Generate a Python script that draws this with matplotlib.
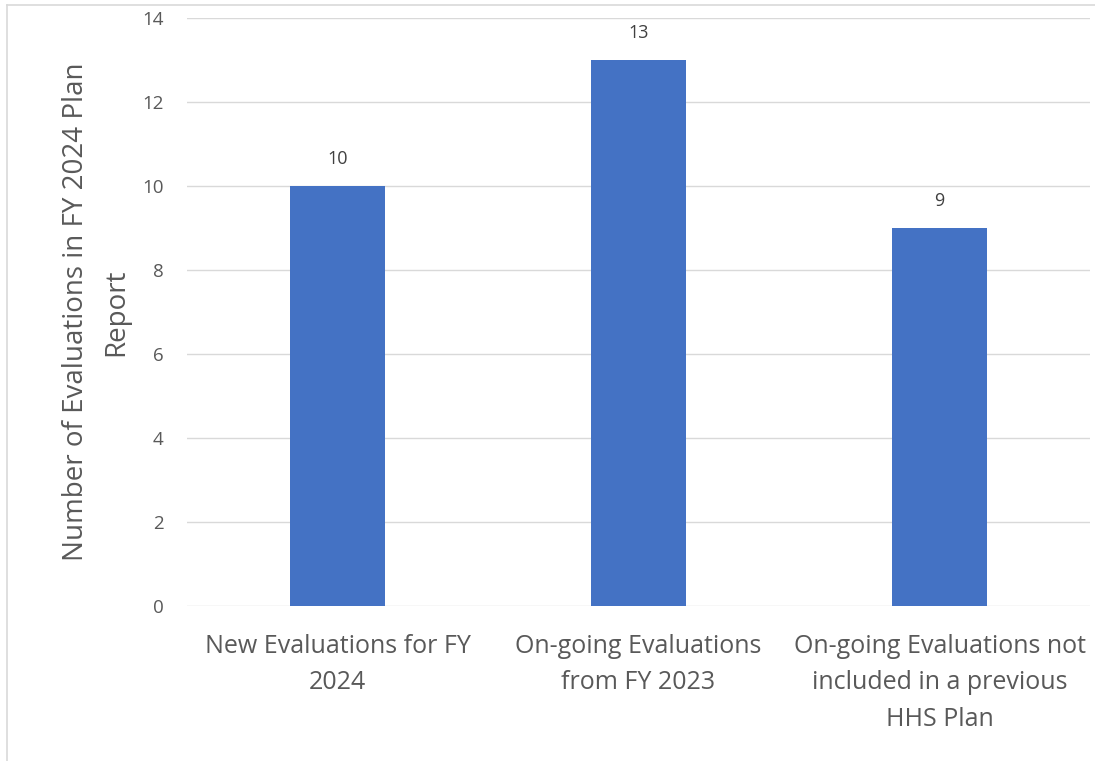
import matplotlib
matplotlib.use('Agg')
import matplotlib.pyplot as plt
from matplotlib.lines import Line2D

categories = ['New Evaluations for FY\n2024',
              'On-going Evaluations\nfrom FY 2023',
              'On-going Evaluations not\nincluded in a previous\nHHS Plan']
values = [10, 13, 9]
y_ticks = [0, 2, 4, 6, 8, 10, 12, 14]
y_label = 'Number of Evaluations in FY 2024 Plan\nReport'

BLUE = '#4472c4'
GRAY_TEXT = '#595959'
GRID = '#d9d9d9'

plt.rcParams['font.family'] = ['Open Sans', 'DejaVu Sans']

fig = plt.figure(figsize=(10.95, 7.61), dpi=100)
ax = fig.add_axes([0.1708, 0.2037, 0.8247, 0.7727])

x = list(range(len(categories)))
bars = ax.bar(x, values, width=0.315, color=BLUE, zorder=3)
for xi, v in zip(x, values):
    ax.text(xi, v + 0.42, str(v), ha='center', va='bottom', fontsize=13, color='#404040')

ax.set_xlim(-0.5, len(categories) - 0.5)
ax.set_ylim(0, 14)
ax.set_yticks(y_ticks)
ax.set_yticklabels([str(t) for t in y_ticks], fontsize=13.5, color=GRAY_TEXT)
ax.set_xticks(x)
ax.set_xticklabels(categories, fontsize=18, color=GRAY_TEXT, linespacing=1.6)
ax.tick_params(axis='both', length=0)
ax.tick_params(axis='y', pad=17)
ax.tick_params(axis='x', pad=20)
ax.grid(axis='y', color=GRID, linewidth=1, zorder=0)
for s in ax.spines.values():
    s.set_visible(False)

fig.text(96 / 1095, 1 - 312 / 761, y_label, rotation=90, ha='center', va='center',
         fontsize=20, color=GRAY_TEXT, linespacing=1.55)

# outer chart border (left and top edges visible)
fig.add_artist(Line2D([7 / 1095, 7 / 1095], [0, 1 - 5 / 761], transform=fig.transFigure,
                      color=GRID, linewidth=1.2))
fig.add_artist(Line2D([7 / 1095, 1], [1 - 5 / 761, 1 - 5 / 761], transform=fig.transFigure,
                      color=GRID, linewidth=1.2))

fig.savefig('out.png', dpi=100)
